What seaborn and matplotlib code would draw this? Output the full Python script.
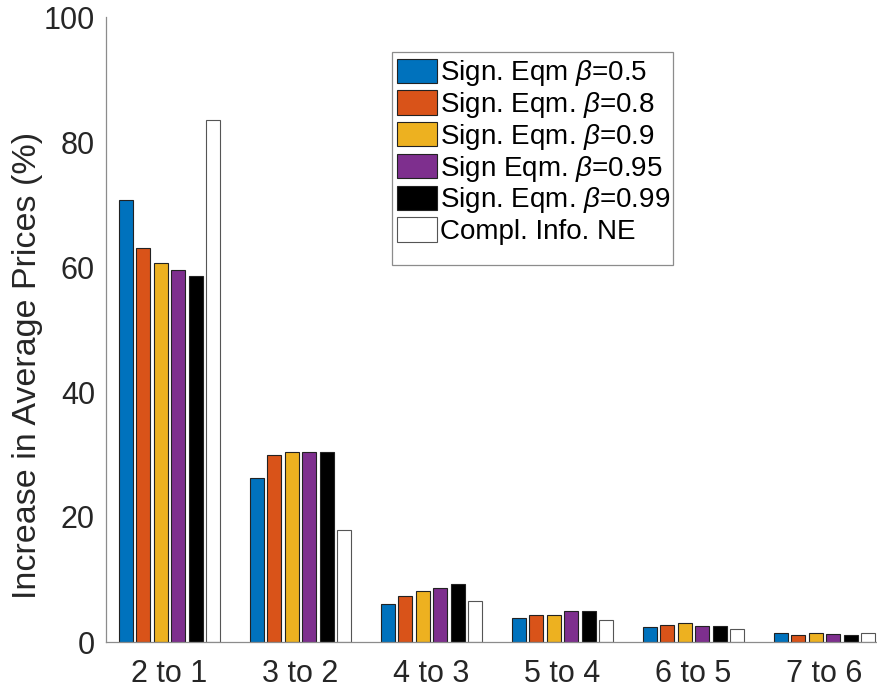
import matplotlib
matplotlib.use("Agg")
import matplotlib.pyplot as plt
from matplotlib.patches import Rectangle
import seaborn as sns
import pandas as pd

categories = ["2 to 1", "3 to 2", "4 to 3", "5 to 4", "6 to 5", "7 to 6"]
series_names = [
    r"Sign. Eqm $\beta$=0.5",
    r"Sign. Eqm. $\beta$=0.8",
    r"Sign. Eqm. $\beta$=0.9",
    r"Sign Eqm. $\beta$=0.95",
    r"Sign. Eqm. $\beta$=0.99",
    "Compl. Info. NE",
]
beta_05 = [70.8, 26.2, 6.1, 3.9, 2.4, 1.5]
beta_08 = [63.1, 29.9, 7.3, 4.25, 2.8, 1.2]
beta_09 = [60.7, 30.35, 8.1, 4.35, 3.0, 1.5]
beta_095 = [59.5, 30.45, 8.7, 4.9, 2.5, 1.25]
beta_099 = [58.6, 30.45, 9.25, 4.9, 2.5, 1.15]
compl_info = [83.5, 17.9, 6.6, 3.5, 2.15, 1.5]
colors = ["#0072BD", "#D95319", "#EDB120", "#7E2F8E", "#000000", "#FFFFFF"]
yticks = [0, 20, 40, 60, 80, 100]

all_series = [beta_05, beta_08, beta_09, beta_095, beta_099, compl_info]
rows = []
for name, vals in zip(series_names, all_series):
    for c, v in zip(categories, vals):
        rows.append({"pair": c, "series": name, "value": v})
df = pd.DataFrame(rows)

sns.set_theme(style="white")
plt.rcParams["font.family"] = ["Liberation Sans", "DejaVu Sans"]
plt.rcParams["mathtext.fontset"] = "custom"
plt.rcParams["mathtext.it"] = "Liberation Sans:italic"
plt.rcParams["mathtext.rm"] = "Liberation Sans"

fig = plt.figure(figsize=(8.78, 6.91), dpi=100)
ax = fig.add_axes([106 / 878, 1 - 642 / 691, 786 / 878, 625 / 691])

sns.barplot(data=df, x="pair", y="value", hue="series", order=categories,
            hue_order=series_names, palette=colors, errorbar=None,
            width=0.8, gap=0.18, ax=ax, edgecolor="#222222", linewidth=0.8,
            saturation=1)

for patch in ax.patches:
    fc = patch.get_facecolor()
    if fc[0] > 0.95 and fc[1] > 0.95 and fc[2] > 0.95:
        patch.set_edgecolor("#555555")

ax.set_xlim(-0.485, 5.515)
ax.set_ylim(0, 100)
ax.set_yticks(yticks)
ax.set_xlabel("")
ax.set_ylabel("Increase in Average Prices (%)", fontsize=24.5, color="#262626")
ax.yaxis.set_label_coords(-0.080, 0.443)
ax.tick_params(axis="both", direction="in", length=6.5, width=0.8,
               color="#7f7f7f", labelsize=22, labelcolor="#262626")
ax.tick_params(axis="y", pad=8)
ax.tick_params(axis="x", pad=12)
for s in ["top", "right"]:
    ax.spines[s].set_visible(False)
for s in ["left", "bottom"]:
    ax.spines[s].set_color("#8c8c8c")
    ax.spines[s].set_linewidth(0.9)

# legend frame
ax.add_patch(Rectangle(((392 - 106) / 786, (642 - 265) / 625),
                       (673 - 392) / 786, (265 - 52) / 625,
                       transform=ax.transAxes, fill=False,
                       edgecolor="#8c8c8c", linewidth=0.9, zorder=5))

leg = ax.legend(loc="upper left", bbox_to_anchor=(0.3702, 0.934), fontsize=20,
                frameon=False, handlelength=1.44, handleheight=0.97,
                handletextpad=0.11, labelspacing=0.065, borderpad=0.0,
                borderaxespad=0)
for t in leg.get_texts():
    t.set_color("black")

fig.savefig("out.png", dpi=100)
